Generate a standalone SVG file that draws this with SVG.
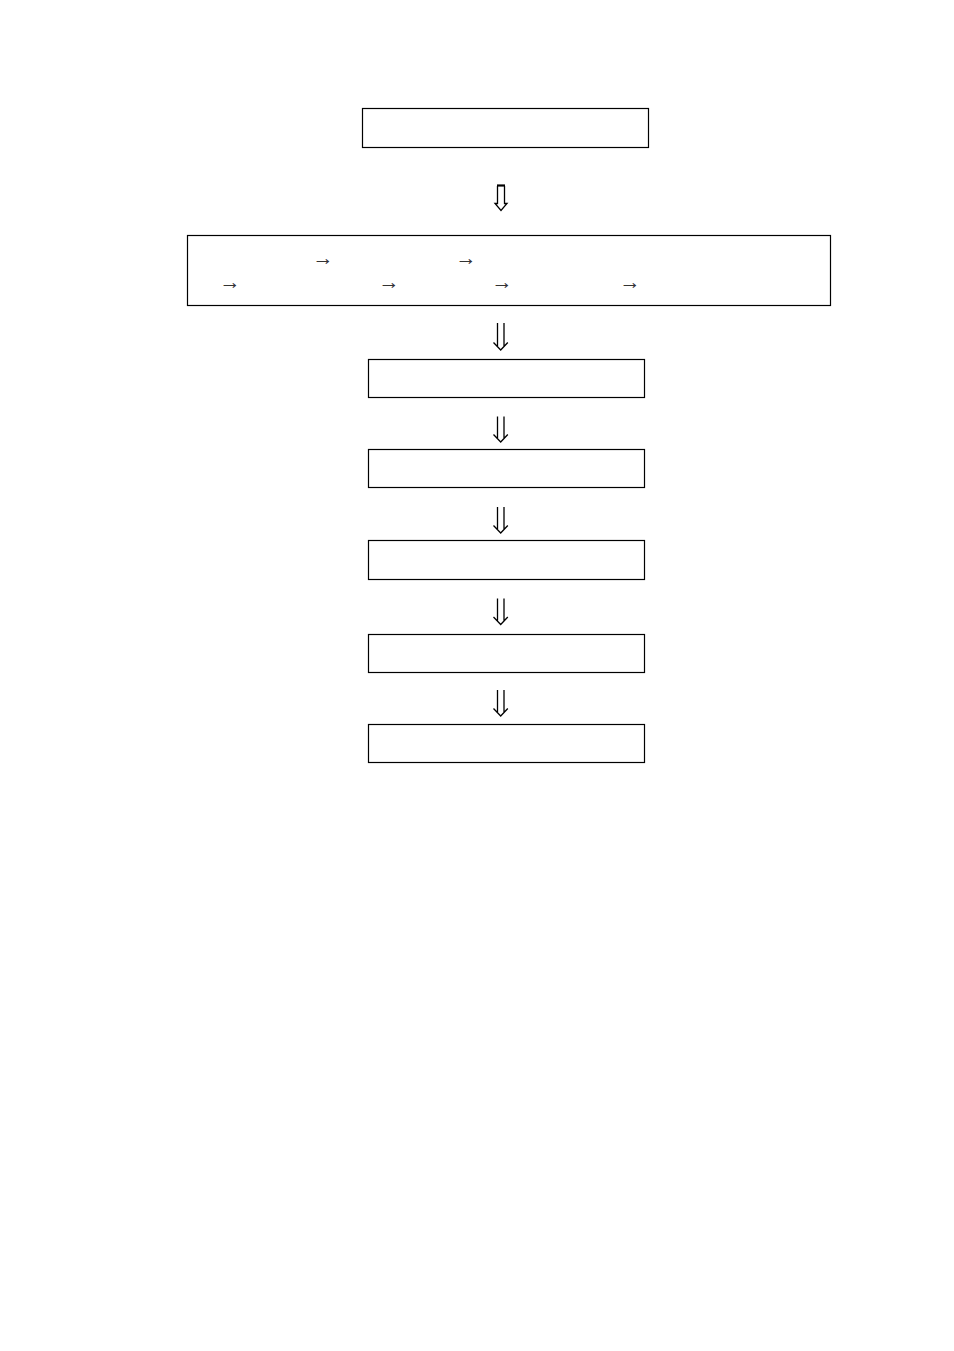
<svg xmlns="http://www.w3.org/2000/svg" width="954" height="1351" viewBox="0 0 954 1351">
<style>
.box{fill:#fff;stroke:#000;stroke-width:1.2}
.arr{fill:none;stroke:#000;stroke-width:1.3}
.sym{font-family:"Liberation Serif","DejaVu Serif",serif;font-size:21px;fill:#333}
</style>
<rect width="954" height="1351" fill="#fff"/>
<g id="node1"><rect class="box" x="362.5" y="108.5" width="286" height="39"/></g>
<g id="node2"><rect class="box" x="187.5" y="235.5" width="643" height="70"/>
<text class="sym" x="312.5" y="264.5">→</text>
<text class="sym" x="455.5" y="264.5">→</text>
<text class="sym" x="219.5" y="288.5">→</text>
<text class="sym" x="378.5" y="288.5">→</text>
<text class="sym" x="491.5" y="288.5">→</text>
<text class="sym" x="619.5" y="288.5">→</text>
</g>
<g id="node3"><rect class="box" x="368.5" y="359.5" width="276" height="38"/></g>
<g id="node4"><rect class="box" x="368.5" y="449.5" width="276" height="38"/></g>
<g id="node5"><rect class="box" x="368.5" y="540.5" width="276" height="39"/></g>
<g id="node6"><rect class="box" x="368.5" y="634.5" width="276" height="38"/></g>
<g id="node7"><rect class="box" x="368.5" y="724.5" width="276" height="38"/></g>
<g id="connectors">
<path class="arr" d="M497.5 186 V203.5 H495 L501 210.5 L507 203.5 H504.5 V186"/>
<line x1="497" y1="185.5" x2="505" y2="185.5" stroke="#000" stroke-width="2.2"/>
<path class="arr" d="M497.5 323 V346 M504 323 V346 M493.5 342.5 L500.7 350 L507.8 342.5"/>
<path class="arr" d="M497.5 416.5 V438 M504 416.5 V438 M493.5 434.5 L500.7 442 L507.8 434.5"/>
<path class="arr" d="M497.5 507 V529 M504 507 V529 M493.5 525.5 L500.7 533 L507.8 525.5"/>
<path class="arr" d="M497.5 598.5 V620.5 M504 598.5 V620.5 M493.5 617 L500.7 624.5 L507.8 617"/>
<path class="arr" d="M497.5 690 V712 M504 690 V712 M493.5 708.5 L500.7 716 L507.8 708.5"/>
</g>
</svg>
